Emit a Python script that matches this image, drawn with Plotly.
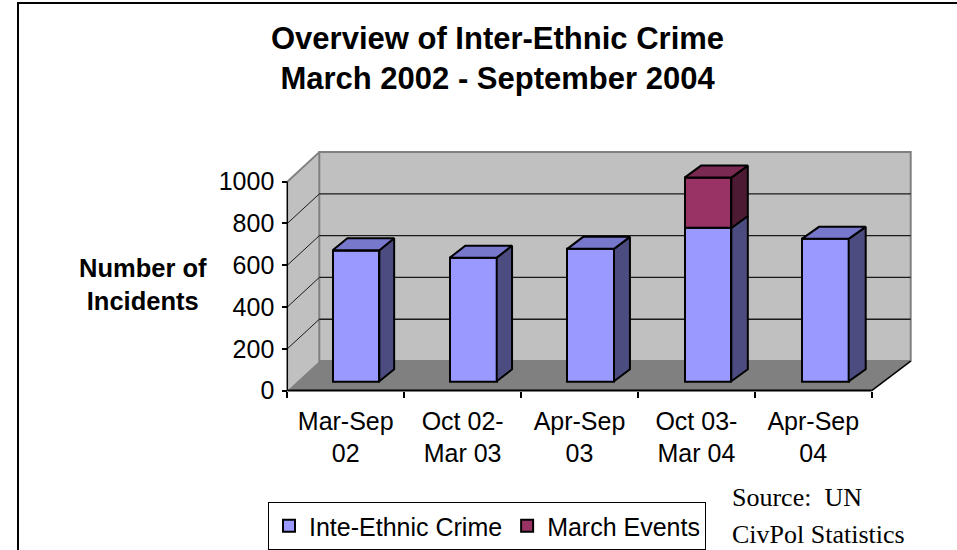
import plotly.graph_objects as go

# ---- data -------------------------------------------------------------
categories = ["Mar-Sep<br>02", "Oct 02-<br>Mar 03", "Apr-Sep<br>03",
              "Oct 03-<br>Mar 04", "Apr-Sep<br>04"]
inter_ethnic = [627, 592, 634, 734, 682]
march_events = [0, 0, 0, 241, 0]
y_ticks = [0, 200, 400, 600, 800, 1000]
series_names = ["Inte-Ethnic Crime", "March Events"]

# ---- page geometry (pixels) --------------------------------------------
W, H = 957, 550
X0_PX = 287.3          # pixel x of the left edge of the first category
PX_PER_CAT = 116.88    # pixel width of one category
Y0_PX = 391.3          # pixel y of value 0 on the front plane
PX_PER_UNIT = 0.2093   # pixels per incident
DEPTH_DY_PX = 29.6     # vertical rise of the full floor depth
DEPTH_DX_L, DEPTH_DX_R = 32.0, 39.0   # horizontal run of the depth, left / right
D_FRONT, D_BACK = 0.314, 0.72         # bar front / back depth fractions
BAR_W = 0.40

n = len(categories)
YMAX = y_ticks[-1]


def x_of_px(px):
    return -0.5 + (px - X0_PX) / PX_PER_CAT


def v_of_py(py):
    return (Y0_PX - py) / PX_PER_UNIT


def dxu(x, d):
    run = DEPTH_DX_L + (DEPTH_DX_R - DEPTH_DX_L) * (x + 0.5) / n
    return d * run / PX_PER_CAT


def dyu(d):
    return d * DEPTH_DY_PX / PX_PER_UNIT


XL, XR = -0.5, n - 0.5
BLx, BRx = XL + dxu(XL, 1), XR + dxu(XR, 1)
BY = dyu(1)


def path(pts):
    return "M " + " L ".join(f"{x},{y}" for x, y in pts) + " Z"


shapes = []
wall_grey, floor_grey, edge_grey = "#C0C0C0", "#808080", "#808080"
# side wall, back wall, floor
shapes.append(dict(type="path", xref="x", yref="y", layer="below",
                   path=path([(XL, 0), (XL, YMAX), (BLx, BY + YMAX), (BLx, BY)]),
                   fillcolor=wall_grey, line=dict(width=0)))
shapes.append(dict(type="path", xref="x", yref="y", layer="below",
                   path=path([(BLx, BY), (BLx, BY + YMAX), (BRx, BY + YMAX), (BRx, BY)]),
                   fillcolor=wall_grey, line=dict(color=edge_grey, width=2)))
shapes.append(dict(type="path", xref="x", yref="y", layer="below",
                   path=path([(XL, 0), (XR, 0), (BRx, BY), (BLx, BY)]),
                   fillcolor=floor_grey, line=dict(width=0)))
# top edge of the side wall
shapes.append(dict(type="line", xref="x", yref="y", layer="below",
                   x0=XL, y0=YMAX, x1=BLx, y1=BY + YMAX,
                   line=dict(color=edge_grey, width=2)))
# gridlines on the back and side walls
for v in y_ticks[1:-1]:
    shapes.append(dict(type="line", xref="x", yref="y", layer="below",
                       x0=BLx, y0=BY + v, x1=BRx, y1=BY + v,
                       line=dict(color="#1a1a1a", width=1.3)))
    shapes.append(dict(type="line", xref="x", yref="y", layer="below",
                       x0=XL, y0=v, x1=BLx, y1=BY + v,
                       line=dict(color="#1a1a1a", width=1)))
# axis lines and floor edge
shapes.append(dict(type="line", xref="x", yref="y", layer="below",
                   x0=XL, y0=0, x1=XL, y1=YMAX, line=dict(color="black", width=1.5)))
shapes.append(dict(type="line", xref="x", yref="y", layer="below",
                   x0=XL, y0=0, x1=XR, y1=0, line=dict(color="black", width=2)))
shapes.append(dict(type="line", xref="x", yref="y", layer="below",
                   x0=XR, y0=0, x1=BRx, y1=BY, line=dict(color="black", width=1.5)))
# chart frame
shapes.append(dict(type="rect", xref="paper", yref="paper",
                   x0=18 / W, x1=1.1, y0=-0.1, y1=1 - 3 / H,
                   line=dict(color="black", width=2)))

fig = go.Figure()

base0 = dyu(D_FRONT)
ddy = dyu(D_BACK - D_FRONT)
series = [inter_ethnic, march_events]
fronts = ["#9999FF", "#993366"]
tops = ["#7777CC", "#7A2952"]
sides = ["#4C4C80", "#4D1A33"]

# front faces as bars
for s, vals in enumerate(series):
    xs, ys, bs = [], [], []
    for i, v in enumerate(vals):
        if v <= 0:
            continue
        below = sum(series[k][i] for k in range(s))
        xs.append(i + dxu(i, D_FRONT))
        ys.append(v)
        bs.append(base0 + below)
    fig.add_trace(go.Bar(x=xs, y=ys, base=bs, width=BAR_W, name=series_names[s],
                         marker=dict(color=fronts[s], line=dict(color="black", width=2)),
                         hoverinfo="skip"))

# side and top faces
for i in range(n):
    xc = i + dxu(i, D_FRONT)
    ddx = dxu(i, D_BACK) - dxu(i, D_FRONT) + 1.5 / PX_PER_CAT
    xl, xr = xc - BAR_W / 2, xc + BAR_W / 2
    b = base0
    segs = [(s, series[s][i]) for s in range(len(series)) if series[s][i] > 0]
    for k, (s, v) in enumerate(segs):
        t = b + v
        fig.add_trace(go.Scatter(
            x=[xr, xr, xr + ddx, xr + ddx, xr], y=[b, t, t + ddy, b + ddy, b],
            fill="toself", fillcolor=sides[s], mode="lines",
            line=dict(color="black", width=2), showlegend=False, hoverinfo="skip"))
        if k == len(segs) - 1:
            fig.add_trace(go.Scatter(
                x=[xl, xr, xr + ddx, xl + ddx, xl], y=[t, t, t + ddy, t + ddy, t],
                fill="toself", fillcolor=tops[s], mode="lines",
                line=dict(color="black", width=2), showlegend=False, hoverinfo="skip"))
        b = t

FONT = "Liberation Sans, Arial, sans-serif"
DOM_L, DOM_R, DOM_T, DOM_B = 240, 945, 110, 425

fig.update_layout(
    width=W, height=H,
    margin=dict(l=0, r=0, t=0, b=0),
    paper_bgcolor="white", plot_bgcolor="rgba(0,0,0,0)",
    barmode="overlay", bargap=0,
    font=dict(family=FONT, size=25, color="black"),
    shapes=shapes,
    xaxis=dict(domain=[DOM_L / W, DOM_R / W],
               range=[x_of_px(DOM_L), x_of_px(DOM_R)],
               anchor="free", position=1 - Y0_PX / H,
               tickmode="array", tickvals=list(range(n)), ticktext=categories,
               ticks="", ticklabelstandoff=13,
               minor=dict(tickmode="array", tickvals=[i - 0.5 for i in range(n + 1)],
                          ticks="outside", ticklen=6, tickcolor="black", tickwidth=1.5,
                          showgrid=False),
               showgrid=False, zeroline=False, showline=False,
               tickfont=dict(size=25)),
    yaxis=dict(domain=[1 - DOM_B / H, 1 - DOM_T / H],
               range=[v_of_py(DOM_B), v_of_py(DOM_T)],
               anchor="free", position=X0_PX / W,
               tickmode="array", tickvals=y_ticks,
               ticks="outside", ticklen=5, tickcolor="black", tickwidth=1.5,
               ticklabelstandoff=3,
               showgrid=False, zeroline=False, showline=False,
               tickfont=dict(size=25)),
    legend=dict(orientation="h", x=268 / W, y=1 - 503 / H,
                xanchor="left", yanchor="top",
                bordercolor="black", borderwidth=1, bgcolor="white",
                font=dict(size=25), traceorder="normal"),
    showlegend=True,
)

fig.add_annotation(text="<b>Overview of Inter-Ethnic Crime</b><br><b>March 2002 - September 2004</b>",
                   xref="paper", yref="paper", x=497.5 / W, y=1 - 58.5 / H,
                   xanchor="center", yanchor="middle", showarrow=False,
                   font=dict(size=31, family=FONT))
fig.add_annotation(text="<b>Number of</b><br><b>Incidents</b>",
                   xref="paper", yref="paper", x=143 / W, y=1 - 285 / H,
                   xanchor="center", yanchor="middle", showarrow=False,
                   font=dict(size=25.5, family=FONT))
SERIF = "Liberation Serif, Times New Roman, serif"
fig.add_annotation(text="Source:\u00a0 UN", xref="paper", yref="paper",
                   x=730 / W, y=1 - 498 / H, xanchor="left", yanchor="middle",
                   showarrow=False, font=dict(size=26, family=SERIF))
fig.add_annotation(text="CivPol Statistics", xref="paper", yref="paper",
                   x=730 / W, y=1 - 535 / H, xanchor="left", yanchor="middle",
                   showarrow=False, font=dict(size=26, family=SERIF))

fig.write_html("out.html")
